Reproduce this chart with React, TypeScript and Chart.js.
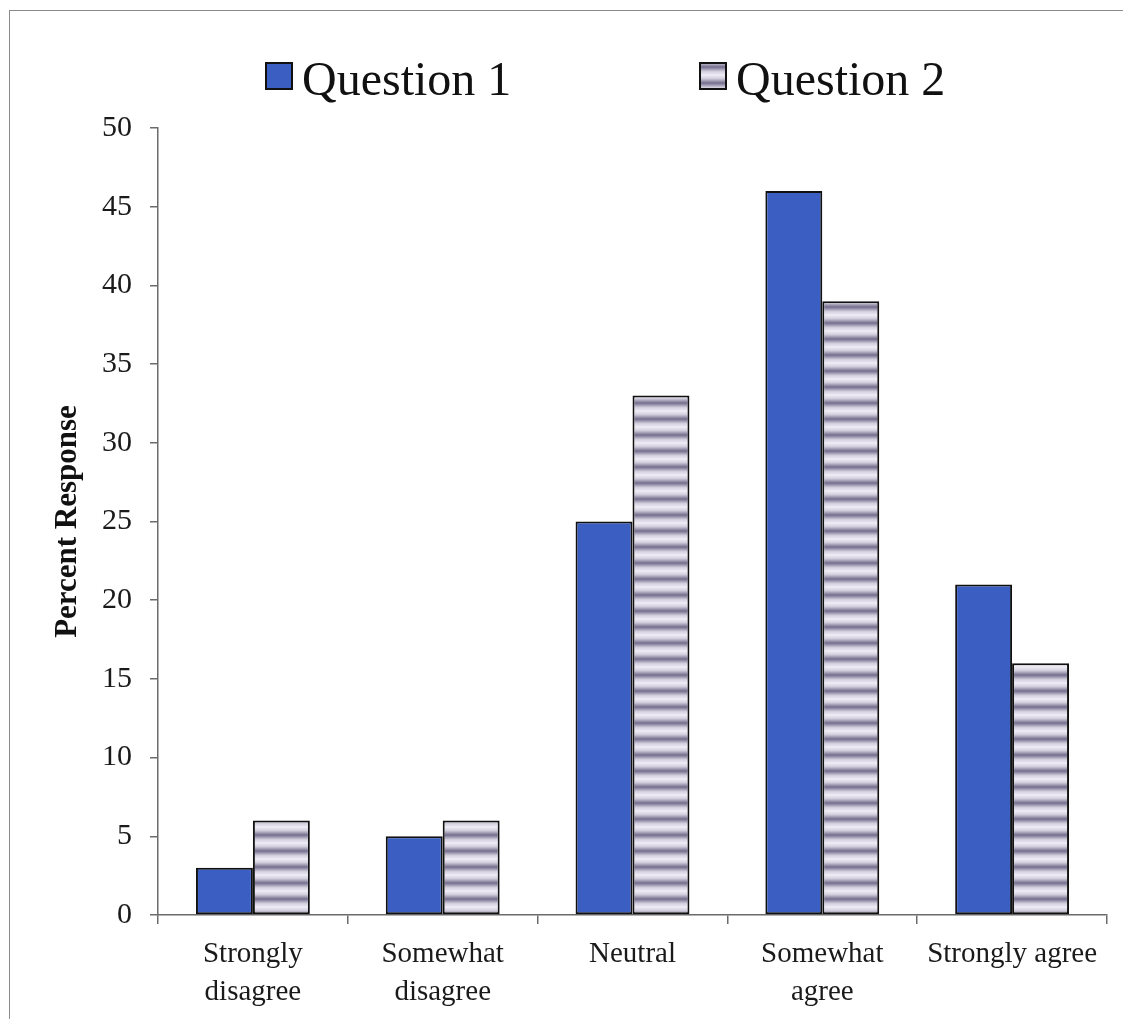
import { useEffect, useRef } from "react";
import { Chart, registerables } from "chart.js";

Chart.register(...registerables);

// Survey answers, in percent of respondents
const categories: (string | string[])[] = [
  ["Strongly", "disagree"],
  ["Somewhat", "disagree"],
  "Neutral",
  ["Somewhat", "agree"],
  "Strongly agree",
];
const question1 = [3, 5, 25, 46, 21];
const question2 = [6, 6, 33, 39, 16];
const seriesNames = ["Question 1", "Question 2"];
const yMin = 0;
const yMax = 50;
const yStep = 5;

const SERIF = "'Liberation Serif', 'Times New Roman', serif";

// Soft horizontal grey/white banding used for the second series
function stripePattern(ctx: CanvasRenderingContext2D): CanvasPattern | string {
  const tile = document.createElement("canvas");
  tile.width = 8;
  tile.height = 16;
  const g = tile.getContext("2d");
  if (!g) return "#a9a5bb";
  const grad = g.createLinearGradient(0, 0, 0, 16);
  grad.addColorStop(0, "#efedf5");
  grad.addColorStop(0.22, "#d2cedd");
  grad.addColorStop(0.5, "#746e8d");
  grad.addColorStop(0.78, "#d2cedd");
  grad.addColorStop(1, "#efedf5");
  g.fillStyle = grad;
  g.fillRect(0, 0, 8, 16);
  return ctx.createPattern(tile, "repeat") || "#a9a5bb";
}

// Legend drawn across the top with large serif labels
const topLegend = {
  id: "topLegend",
  afterDraw(chart: any, _args: any, opts: any) {
    const { ctx } = chart;
    ctx.save();
    ctx.font = `48px ${SERIF}`;
    ctx.textBaseline = "alphabetic";
    ctx.textAlign = "left";
    chart.data.datasets.forEach((ds: any, i: number) => {
      const x = opts.x[i];
      const y = opts.y;
      const s = opts.box;
      ctx.fillStyle = ds.backgroundColor;
      ctx.fillRect(x, y, s, s);
      ctx.lineWidth = 2;
      ctx.strokeStyle = "#111";
      ctx.strokeRect(x, y, s, s);
      ctx.fillStyle = "#111";
      ctx.fillText(ds.label, x + s + opts.gap, opts.baseline);
    });
    ctx.restore();
  },
};

export default function App() {
  const canvasRef = useRef<HTMLCanvasElement | null>(null);

  useEffect(() => {
    const canvas = canvasRef.current;
    if (!canvas) return;
    const ctx = canvas.getContext("2d");
    if (!ctx) return;
    const stripes = stripePattern(ctx);

    const chart = new Chart(ctx, {
      type: "bar",
      data: {
        labels: categories,
        datasets: [
          {
            label: seriesNames[0],
            data: question1,
            backgroundColor: "#3a5ec2",
            borderColor: "#111",
            borderWidth: 2,
            borderSkipped: false,
          },
          {
            label: seriesNames[1],
            data: question2,
            backgroundColor: stripes as any,
            borderColor: "#111",
            borderWidth: 2,
            borderSkipped: false,
          },
        ],
      },
      options: {
        responsive: false,
        animation: false,
        layout: { padding: { top: 117, left: 8, right: 16, bottom: 0 } },
        datasets: {
          bar: { categoryPercentage: 0.6, barPercentage: 1.0 },
        },
        plugins: {
          legend: { display: false },
          tooltip: { enabled: false },
          topLegend: { x: [256, 690], y: 52, box: 26, gap: 10, baseline: 84 },
        } as any,
        scales: {
          x: {
            afterFit: (scale: any) => {
              scale.height = 104;
            },
            border: { display: true, color: "#6b6b6b", width: 1.5 },
            grid: {
              display: true,
              drawOnChartArea: false,
              drawTicks: true,
              tickLength: 9,
              tickColor: "#6b6b6b",
              lineWidth: 1.5,
              offset: true,
            },
            ticks: {
              color: "#1a1a1a",
              padding: 12,
              maxRotation: 0,
              autoSkip: false,
              font: { family: SERIF, size: 29, lineHeight: 1.3 },
            },
          },
          y: {
            min: yMin,
            max: yMax,
            afterFit: (scale: any) => {
              scale.width = 140;
            },
            border: { display: true, color: "#6b6b6b", width: 1.5 },
            grid: {
              display: true,
              drawOnChartArea: false,
              drawTicks: true,
              tickLength: 8,
              tickColor: "#6b6b6b",
              lineWidth: 1.5,
            },
            ticks: {
              stepSize: yStep,
              color: "#1a1a1a",
              padding: 18,
              font: { family: SERIF, size: 30 },
            },
            title: {
              display: true,
              text: "Percent Response",
              color: "#111",
              font: { family: SERIF, size: 31, weight: "bold", lineHeight: 1.2 },
              padding: { top: 31, bottom: 0 },
            },
          },
        },
      },
      plugins: [topLegend],
    });

    return () => chart.destroy();
  }, []);

  return (
    <div
      style={{
        position: "absolute",
        left: 9,
        top: 10,
        width: 1114,
        height: 1009,
        boxSizing: "border-box",
        borderLeft: "1px solid #8a8a8a",
        borderTop: "1px solid #8a8a8a",
        background: "#fff",
      }}
    >
      <canvas
        ref={canvasRef}
        width={1113}
        height={1008}
        style={{ display: "block", width: 1113, height: 1008 }}
      />
    </div>
  );
}
